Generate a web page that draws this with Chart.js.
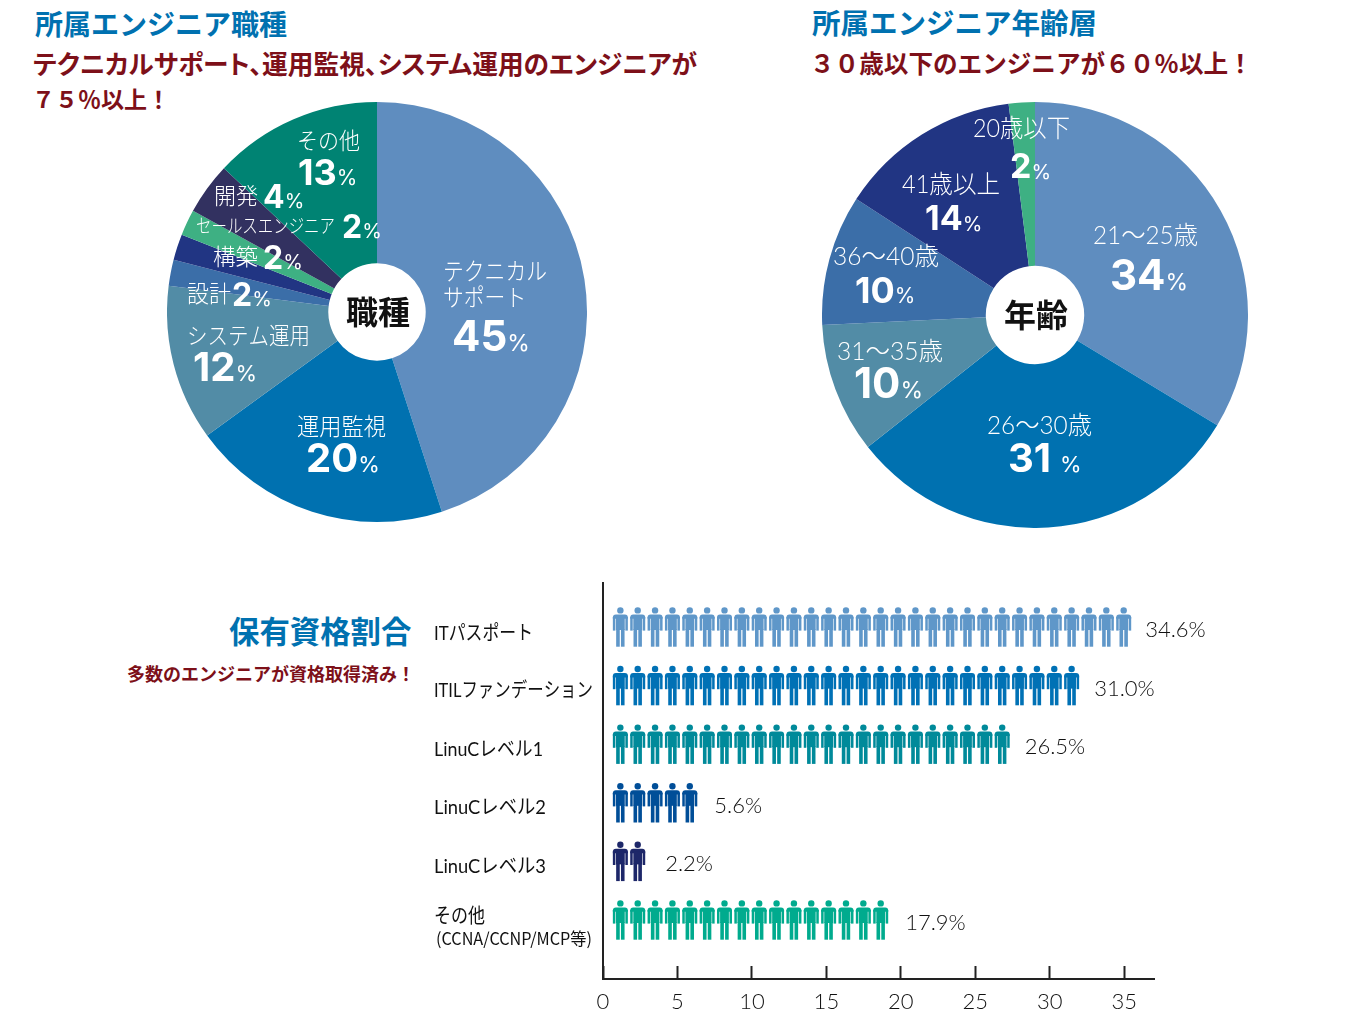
<!DOCTYPE html>
<html lang="ja">
<head>
<meta charset="utf-8">
<title>所属エンジニア</title>
<script src="https://cdn.jsdelivr.net/npm/chart.js@4"></script>
<style>
  html, body { margin: 0; padding: 0; background: #fff; }
  body { position: relative; width: 1360px; height: 1020px; overflow: hidden; font-family: "Noto Sans CJK JP", sans-serif; }
  canvas { position: absolute; }
  .head { position: absolute; white-space: nowrap; font-weight: 700; line-height: 1; }
  .blue { color: #0071b0; }
  .red { color: #7d1019; }
  .palt { font-feature-settings: "palt"; }
</style>
</head>
<body>
<div class="head blue" style="left:35px;top:9px;font-size:28px">所属エンジニア職種</div>
<div class="head red palt" style="left:33px;top:50px;font-size:25.7px">テクニカルサポート、運用監視、システム運用のエンジニアが</div>
<div class="head red" style="left:32px;top:87px;font-size:23px">７５％以上！</div>
<div class="head blue" style="left:812px;top:8px;font-size:28.5px">所属エンジニア年齢層</div>
<div class="head red" style="left:810px;top:50px;font-size:24.6px">３０歳以下のエンジニアが６０％以上！</div>
<div class="head blue" style="left:229px;top:615px;font-size:30.4px">保有資格割合</div>
<div class="head red" style="left:127px;top:664px;font-size:18px">多数のエンジニアが資格取得済み！</div>

<canvas id="jobChart" width="420" height="420" style="left:167px;top:102px"></canvas>
<canvas id="ageChart" width="426" height="426" style="left:822px;top:102px"></canvas>
<canvas id="certChart" width="800" height="455" style="left:420px;top:565px"></canvas>

<script>
// data
const jobCategories = ['テクニカル\nサポート', '運用監視', 'システム運用', '設計', '構築', 'セールスエンジニア', '開発', 'その他'];
const jobValues = [45, 20, 12, 2, 2, 2, 4, 13];
const ageCategories = ['21～25歳', '26～30歳', '31～35歳', '36～40歳', '41歳以上', '20歳以下'];
const ageValues = [34, 31, 10, 10, 14, 2];
const certCategories = ['ITパスポート', 'ITILファンデーション', 'LinuCレベル1', 'LinuCレベル2', 'LinuCレベル3', 'その他'];
const certNotes = ['', '', '', '', '', '(CCNA/CCNP/MCP等)'];
const certValues = [34.6, 31.0, 26.5, 5.6, 2.2, 17.9];
const certIconCounts = [30, 27, 23, 5, 2, 16];

// colours
const jobColors = ['#5f8dbf', '#0071b0', '#528ca6', '#3b6ea8', '#213583', '#3eb083', '#323160', '#008373'];
const ageColors = ['#5f8dbf', '#0071b0', '#528ca6', '#3b6ea8', '#213583', '#3eb083'];
const certColors = ['#5f97c9', '#0071b5', '#008a9a', '#004e98', '#1d2769', '#00ab8e'];

// label layout, offsets from the pie centre:
// name dx, dy, value dx, dy, name size, value size, gap before %, width of the name's first line
const jobLabelLayout = [
  [66, -41, 75, 24, 24, 42, 0, 104],
  [-80, 114, -71, 146, 24, 40, 0, 89],
  [-190, 24, -184, 55, 23, 40, 0, 123],
  [-190, -18, -145, -18, 23, 32, 0, 44],
  [-164, -55, -114, -55, 23, 32, 0, 45],
  [-181, -86, -35, -86, 19, 32, 0, 139],
  [-163, -116, -114, -116, 23, 32, 0, 44],
  [-80, -171, -79, -140, 23, 36, 0, 63]
];
const ageLabelLayout = [
  [58, -80, 75, -40, 25, 42, 0, 105],
  [-48, 110, -27, 143, 25, 40, 9, 105],
  [-198, 36, -181, 68, 25, 42, 0, 106],
  [-202, -59, -180, -25, 25, 36, 0, 106],
  [-133, -131, -110, -97, 25, 34, 0, 98],
  [-62, -187, -25, -149, 25, 34, 0, 97]
];

const nameFont = '"Lato", "Noto Sans CJK JP"';
const digitFont = '"Inter", "Noto Sans"';

const pieLabels = {
  id: 'pieLabels',
  afterDatasetsDraw(chart, args, opts) {
    const ctx = chart.ctx;
    const arcs = chart.getDatasetMeta(0).data;
    const cx = arcs[0].x;
    const cy = arcs[0].y;
    const values = chart.data.datasets[0].data;
    ctx.save();
    ctx.fillStyle = '#fff';
    ctx.textAlign = 'left';
    ctx.textBaseline = 'middle';
    chart.data.labels.forEach((label, i) => {
      const [nx, ny, vx, vy, nameSize, valSize, gap, nameWidth] = opts.layout[i];
      ctx.font = `300 ${nameSize}px ${nameFont}`;
      const lines = label.split('\n');
      const ratio = nameWidth / ctx.measureText(lines[0]).width;
      lines.forEach((line, k) => {
        ctx.fillText(line, cx + nx, cy + ny + 1 + k * 26, ctx.measureText(line).width * ratio);
      });
      ctx.font = `700 ${valSize}px ${digitFont}`;
      const num = String(values[i]);
      ctx.fillText(num, cx + vx, cy + vy + 2);
      const w = ctx.measureText(num).width;
      ctx.font = `400 ${Math.round(valSize * 0.3 + 10)}px ${digitFont}`;
      ctx.fillText('%', cx + vx + w + gap, cy + vy + 2 + valSize * 0.14);
    });
    // hub title
    ctx.fillStyle = '#111';
    ctx.textAlign = 'center';
    ctx.font = '700 32px "Noto Sans CJK JP"';
    ctx.fillText(opts.title, cx + 1, cy);
    ctx.restore();
  }
};

function pieChart(id, labels, values, colors, layout, title, cutout) {
  return new Chart(document.getElementById(id), {
    type: 'doughnut',
    data: { labels: labels, datasets: [{ data: values, backgroundColor: colors, borderWidth: 0 }] },
    options: {
      responsive: false,
      animation: false,
      cutout: cutout,
      plugins: {
        legend: { display: false },
        tooltip: { enabled: false },
        pieLabels: { layout: layout, title: title }
      }
    },
    plugins: [pieLabels]
  });
}

pieChart('jobChart', jobCategories, jobValues, jobColors, jobLabelLayout, '職種', '23.2%');
pieChart('ageChart', ageCategories, ageValues, ageColors, ageLabelLayout, '年齢', '23.1%');

// one little person, origin at the middle of the figure
function drawPerson(ctx, x, y, color) {
  ctx.fillStyle = color;
  ctx.beginPath();
  ctx.arc(x, y - 16.6, 3.2, 0, Math.PI * 2);
  ctx.fill();
  ctx.beginPath();
  ctx.roundRect(x - 7.5, y - 12.6, 15, 4.4, [3, 3, 0, 0]);
  ctx.fill();
  ctx.fillRect(x - 7.5, y - 10, 2.5, 13.6);
  ctx.fillRect(x + 5, y - 10, 2.5, 13.6);
  ctx.fillRect(x - 4.4, y - 10, 8.8, 13);
  ctx.fillRect(x - 4.2, y + 2, 3.6, 17.7);
  ctx.fillRect(x + 0.6, y + 2, 3.6, 17.7);
}

const iconStep = 1.1655; // axis units between two figures
const valueGaps = [14, 15, 15, 17, 20, 17];
const labelNudge = [7, 5, 5, 5, 5, -3];
const labelWidths = [99, 159, 109, 112, 112, 51];

const pictoBars = {
  id: 'pictoBars',
  afterDatasetsDraw(chart) {
    const ctx = chart.ctx;
    const xScale = chart.scales.x;
    const yScale = chart.scales.y;
    const bars = chart.getDatasetMeta(0).data;
    ctx.save();
    ctx.textAlign = 'left';
    ctx.textBaseline = 'middle';
    certValues.forEach((value, i) => {
      const y = bars[i].y;
      let lastX = xScale.left;
      for (let n = 1; n <= certIconCounts[i]; n++) {
        lastX = xScale.getPixelForValue(n * iconStep);
        drawPerson(ctx, lastX, y, certColors[i]);
      }
      ctx.fillStyle = '#111';
      ctx.font = '300 22px "Lato"';
      ctx.fillText(value.toFixed(1) + '%', lastX + 7.5 + valueGaps[i], y + 3);
      // category names sit left aligned and squeezed like the original
      ctx.font = '400 20px "Lato", "Noto Sans CJK JP"';
      ctx.fillText(certCategories[i], yScale.left, y + labelNudge[i], labelWidths[i]);
      if (certNotes[i]) {
        ctx.font = '400 17px "Liberation Sans Narrow", "Noto Sans CJK JP"';
        ctx.fillText(certNotes[i], yScale.left + 2, y + 19, 156);
      }
    });
    ctx.restore();
  }
};

new Chart(document.getElementById('certChart'), {
  type: 'bar',
  data: {
    labels: certCategories,
    datasets: [{
      data: certValues.map((v, i) => ({ x: v, y: i })),
      backgroundColor: 'rgba(0,0,0,0)',
      borderWidth: 0
    }]
  },
  options: {
    indexAxis: 'y',
    responsive: false,
    animation: false,
    layout: { padding: { top: 18, right: 66, left: 14, bottom: 0 } },
    scales: {
      x: {
        type: 'linear',
        min: 0,
        max: 37,
        afterFit: (scale) => { scale.height = 41; },
        border: { display: true, color: '#222', width: 2 },
        grid: { drawOnChartArea: false, drawTicks: true, tickLength: -13, tickColor: '#222', tickWidth: 2 },
        ticks: { stepSize: 5, includeBounds: false, padding: 23, color: '#111', font: { family: 'Lato', size: 22, weight: 300 }, maxRotation: 0 }
      },
      y: {
        type: 'linear',
        reverse: true,
        offset: false,
        min: -0.751,
        max: 6.007,
        afterFit: (scale) => { scale.width = 169; },
        border: { display: true, color: '#222', width: 2 },
        grid: { display: false, drawTicks: false },
        ticks: { display: false }
      }
    },
    plugins: { legend: { display: false }, tooltip: { enabled: false } }
  },
  plugins: [pictoBars]
});
</script>
</body>
</html>
